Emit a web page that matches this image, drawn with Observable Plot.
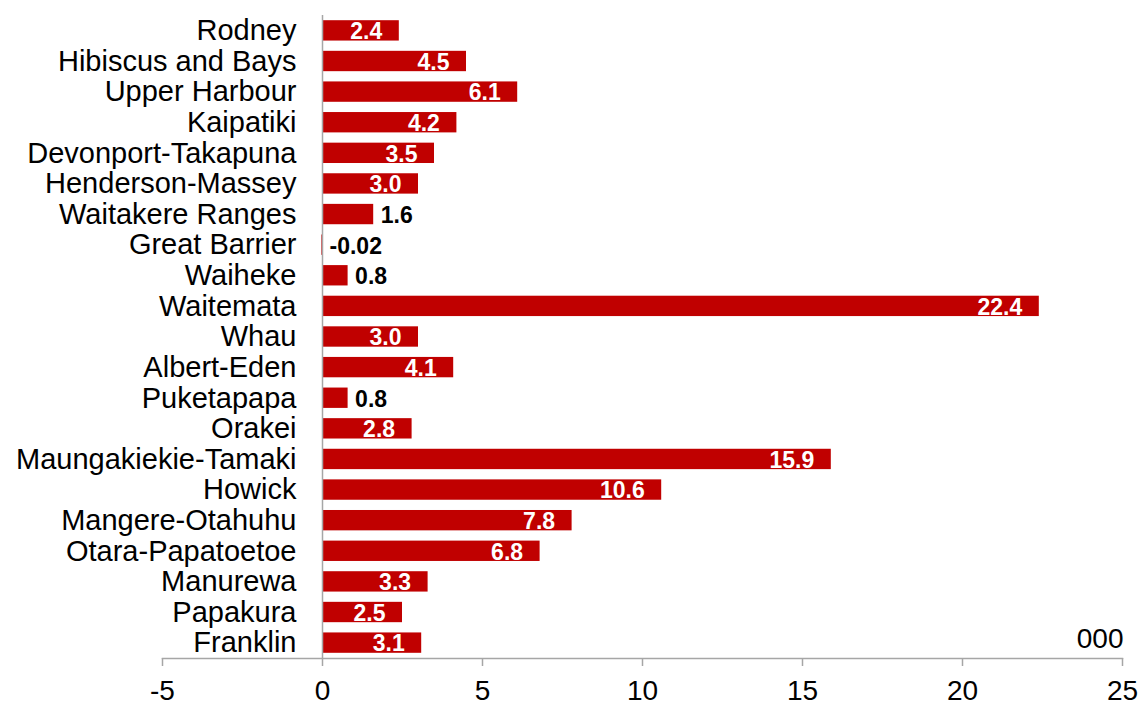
<!DOCTYPE html>
<html><head><meta charset="utf-8">
<script src="https://cdn.jsdelivr.net/npm/d3@7"></script>
<script src="https://cdn.jsdelivr.net/npm/@observablehq/plot@0.6"></script>
<style>html,body{margin:0;padding:0;background:#fff} svg{display:block}</style>
</head><body><div id="chart"></div>
<script>
const boards = ["Rodney","Hibiscus and Bays","Upper Harbour","Kaipatiki","Devonport-Takapuna","Henderson-Massey","Waitakere Ranges","Great Barrier","Waiheke","Waitemata","Whau","Albert-Eden","Puketapapa","Orakei","Maungakiekie-Tamaki","Howick","Mangere-Otahuhu","Otara-Papatoetoe","Manurewa","Papakura","Franklin"];
const values = [2.4,4.5,6.1,4.2,3.5,3.0,1.6,-0.02,0.8,22.4,3.0,4.1,0.8,2.8,15.9,10.6,7.8,6.8,3.3,2.5,3.1];
const labels = ["2.4","4.5","6.1","4.2","3.5","3.0","1.6","-0.02","0.8","22.4","3.0","4.1","0.8","2.8","15.9","10.6","7.8","6.8","3.3","2.5","3.1"];
const xTicks = [-5,0,5,10,15,20,25];
const unitLabel = "000";

const data = boards.map((b,i)=>({board:b, value:values[i], label:labels[i]}));
const inside = data.filter(d=>d.value>=2);
const outside = data.filter(d=>d.value<2);

const chart = Plot.plot({
  width:1141, height:704,
  marginLeft:162, marginRight:19, marginTop:15, marginBottom:46,
  style:{fontFamily:"'Liberation Sans', Arial, sans-serif", background:"#fff", color:"#000"},
  x:{domain:[-5,25]},
  y:{domain:boards, paddingInner:0.335, paddingOuter:0.17, round:false},
  marks:[
    Plot.barX(data,{x:"value", y:"board", fill:"#c00000"}),
    Plot.ruleX([0],{stroke:"#a6a6a6", strokeWidth:1.5}),
    Plot.frame({anchor:"bottom", stroke:"#a6a6a6", strokeWidth:1.5}),
    Plot.axisX({ticks:xTicks, tickSize:8, tickPadding:14, stroke:"#a6a6a6", strokeWidth:1.5, fill:"#000", fontSize:28, tickFormat:d=>String(d), label:null}),
    Plot.axisY({tickSize:0, tickPadding:0, dx:134, fontSize:29, fill:"#000", label:null}),
    Plot.text(inside,{x:"value", y:"board", text:"label", textAnchor:"end", dx:-17, dy:1, fill:"white", fontWeight:"bold", fontSize:23}),
    Plot.text(outside,{x:d=>Math.max(d.value,0), y:"board", text:"label", textAnchor:"start", dx:7, dy:1, fill:"#000", fontWeight:"bold", fontSize:23}),
    Plot.text([unitLabel],{frameAnchor:"bottom-right", dy:-11, dx:1, fontSize:28, fill:"#000"})
  ]
});
document.getElementById("chart").append(chart);
</script>
</body></html>
